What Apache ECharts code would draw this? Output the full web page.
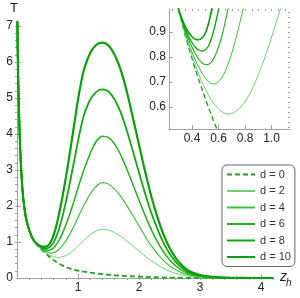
<!DOCTYPE html>
<html><head><meta charset="utf-8">
<script src="https://cdn.jsdelivr.net/npm/echarts@6/dist/echarts.min.js"></script>
<style>html,body{margin:0;padding:0;background:#fff}#c{width:300px;height:298px}</style>
</head><body><div id="c"></div>
<script>
const zValues = [0.004,0.006,0.01,0.015,0.02,0.03,0.04,0.05,0.06,0.08,0.1,0.125,0.15,0.175,0.2,0.225,0.25,0.275,
  0.3,0.325,0.35,0.375,0.4,0.425,0.45,0.475,0.5,0.525,0.55,0.575,0.6,0.625,0.65,0.675,0.7,
  0.75,0.8,0.85,0.9,0.95,1.0,1.05,1.1,
  1.2,1.3,1.4,1.5,1.6,1.7,1.8,1.9,2.0,2.1,2.2,2.3,2.4,2.5,2.6,2.7,2.8,2.9,3.0,
  3.2,3.4,3.6,3.8,4.0,4.2];
const T_d0 = [7.8,7.2,6.5,5.95,5.5,4.8,4.2,3.7,3.3,2.7,2.25,1.9,1.65,1.47,1.33,1.22,1.115,1.045,
  0.985,0.933,0.884,0.838,0.794,0.752,0.711,0.672,0.634,0.597,0.562,0.528,0.496,0.466,0.438,0.412,0.388,
  0.345,0.308,0.277,0.25,0.227,0.207,0.19,0.174,
  0.147,0.125,0.106,0.09,0.076,0.064,0.053,0.044,0.036,0.029,0.023,0.018,0.014,0.011,0.008,0.006,0.005,0.004,0.003,
  0.002,0.001,0.001,0,0,0];
const T_d2 = [7.8,7.2,6.5,5.95,5.5,4.8,4.2,3.7,3.3,2.7,2.25,1.9,1.65,1.47,1.33,1.22,1.115,1.046,
  0.987,0.937,0.89,0.847,0.806,0.768,0.733,0.70,0.672,0.647,0.625,0.606,0.592,0.581,0.574,0.572,0.574,
  0.59,0.622,0.668,0.73,0.80,0.88,0.965,1.05,
  1.2,1.31,1.35,1.33,1.26,1.16,1.03,0.89,0.75,0.61,0.48,0.37,0.27,0.19,0.13,0.085,0.055,0.035,0.022,
  0.008,0.003,0.001,0,0,0];
const T_d4 = [7.8,7.2,6.5,5.95,5.5,4.8,4.2,3.7,3.3,2.7,2.25,1.9,1.65,1.47,1.33,1.22,1.115,1.046,
  0.987,0.94,0.895,0.855,0.82,0.788,0.76,0.736,0.716,0.701,0.693,0.693,0.701,0.718,0.743,0.776,0.816,
  0.915,1.03,1.17,1.33,1.5,1.68,1.86,2.03,
  2.33,2.55,2.65,2.61,2.47,2.27,2.01,1.73,1.45,1.16,0.90,0.68,0.49,0.34,0.23,0.15,0.095,0.06,0.037,
  0.013,0.005,0.002,0,0,0];
const T_d6 = [7.8,7.2,6.5,5.95,5.5,4.8,4.2,3.7,3.3,2.7,2.25,1.9,1.65,1.47,1.33,1.22,1.115,1.047,
  0.988,0.945,0.905,0.87,0.84,0.813,0.792,0.777,0.769,0.771,0.783,0.806,0.84,0.884,0.94,1.005,1.08,
  1.26,1.47,1.7,1.95,2.22,2.5,2.77,3.02,
  3.46,3.8,3.94,3.9,3.72,3.42,3.03,2.6,2.16,1.74,1.35,1.01,0.73,0.51,0.34,0.22,0.14,0.088,0.055,
  0.02,0.007,0.002,0,0,0];
const T_d8 = [7.8,7.2,6.5,5.95,5.5,4.8,4.2,3.7,3.3,2.7,2.25,1.9,1.65,1.47,1.33,1.22,1.116,1.047,
  0.988,0.948,0.912,0.882,0.858,0.84,0.828,0.824,0.829,0.845,0.88,0.93,0.99,1.07,1.17,1.29,1.42,
  1.74,2.1,2.5,2.93,3.36,3.8,4.2,4.54,
  4.95,5.17,5.24,5.18,4.96,4.6,4.1,3.52,2.93,2.35,1.82,1.37,0.98,0.68,0.45,0.29,0.18,0.11,0.068,
  0.024,0.008,0.002,0,0,0];
const T_d10 = [7.8,7.2,6.5,5.95,5.5,4.8,4.2,3.7,3.3,2.7,2.25,1.9,1.65,1.47,1.33,1.22,1.116,1.048,
  0.989,0.952,0.922,0.898,0.881,0.871,0.869,0.876,0.895,0.935,0.995,1.08,1.19,1.33,1.49,1.67,1.87,
  2.3,2.78,3.3,3.85,4.4,4.95,5.42,5.8,
  6.25,6.48,6.54,6.46,6.2,5.78,5.18,4.45,3.7,2.96,2.28,1.7,1.22,0.84,0.56,0.36,0.22,0.135,0.083,
  0.03,0.01,0.003,0,0,0];
const seriesNames = ['d = 0','d = 2','d = 4','d = 6','d = 8','d = 10'];
const seriesValues = [T_d0, T_d2, T_d4, T_d6, T_d8, T_d10];
const mainXTicks = [1,2,3,4];
const mainYTicks = [0,1,2,3,4,5,6,7];
const insetXTicks = [0.4,0.6,0.8,1.0];
const insetYTicks = [0.6,0.7,0.8,0.9];

const styles = [
  {color:'#1f9f1f', width:1.8, type:[5,3]},
  {color:'#6fd06f', width:1},
  {color:'#3fbf3f', width:1.2},
  {color:'#20b020', width:1.5},
  {color:'#12a812', width:1.8},
  {color:'#0aa00a', width:2.2}
];
const FONT = 'Liberation Sans, Arial, sans-serif';
const AXC = '#a0a0a0';
const LBL = '#222';

function steps(a, b, s){ const r=[]; for(let v=a; v<=b+1e-9; v+=s) r.push(+v.toFixed(4)); return r; }
const mainXMinor = steps(0.2, 4.2, 0.2);
const mainYMinor = steps(0.2, 7.0, 0.2);
const insetXMinor = steps(0.25, 1.1, 0.05);
const insetYMinor = steps(0.52, 0.98, 0.02);

function pairs(ys){ return zValues.map((z,i)=>[z, ys[i]]); }

function majorAxis(grid, min, max, ticks, fmt, margin){
  return {
    type:'value', gridIndex:grid, min:min, max:max,
    axisLine:{show:true, onZero:false, lineStyle:{color:AXC, width:1}},
    axisTick:{show:true, inside:true, length:4, customValues:ticks, lineStyle:{color:AXC}},
    axisLabel:{show:true, customValues:ticks, color:LBL, fontSize:12, fontFamily:FONT, formatter:fmt, margin:margin},
    splitLine:{show:false}
  };
}
function minorAxis(grid, min, max, ticks){
  return {
    type:'value', gridIndex:grid, min:min, max:max,
    axisLine:{show:false},
    axisTick:{show:true, inside:true, length:2, customValues:ticks, lineStyle:{color:AXC}},
    axisLabel:{show:false},
    splitLine:{show:false}
  };
}

const chart = echarts.init(document.getElementById('c'), null, {renderer:'canvas'});
const series = [];
seriesValues.forEach((vals, i) => {
  series.push({type:'line', name:seriesNames[i], xAxisIndex:0, yAxisIndex:0, data:pairs(vals),
    symbol:'none', smooth:0.3, lineStyle:styles[i], itemStyle:{color:styles[i].color}, z:2+i, animation:false});
});
seriesValues.forEach((vals, i) => {
  series.push({type:'line', name:seriesNames[i], xAxisIndex:2, yAxisIndex:2, data:pairs(vals),
    symbol:'none', smooth:0.3, lineStyle:Object.assign({}, styles[i], {width:Math.max(1, styles[i].width*0.75)}),
    itemStyle:{color:styles[i].color}, z:2+i, animation:false});
});

chart.setOption({
  animation:false,
  backgroundColor:'#fff',
  grid:[
    {left:17, top:22.4, width:256.2, height:255.6, containLabel:false},
    {left:169, top:9, width:121, height:120, containLabel:false}
  ],
  xAxis:[
    majorAxis(0, 0, 4.2, mainXTicks, v=>String(v), 4),
    minorAxis(0, 0, 4.2, mainXMinor),
    majorAxis(1, 0.2268, 1.138, insetXTicks, v=>v.toFixed(1), 4),
    minorAxis(1, 0.2268, 1.138, insetXMinor)
  ],
  yAxis:[
    majorAxis(0, 0, 7.1, mainYTicks, v=>String(v), 4),
    minorAxis(0, 0, 7.1, mainYMinor),
    majorAxis(1, 0.512, 0.992, insetYTicks, v=>v.toFixed(1), 3),
    minorAxis(1, 0.512, 0.992, insetYMinor)
  ],
  legend:{
    data:seriesNames, orient:'vertical', left:222, top:165,
    itemWidth:28, itemHeight:10, itemGap:5.5, padding:[4,4,4,4],
    itemStyle:{opacity:0, color:'rgba(0,0,0,0)', borderWidth:0},
    backgroundColor:'#fff', borderColor:'#666', borderWidth:1, borderRadius:5,
    textStyle:{fontSize:11, color:'#333', fontFamily:FONT}, selectedMode:false
  },
  graphic:[
    {type:'text', left:10, top:1.5, style:{text:'T', fontSize:13, fill:LBL, fontFamily:FONT}},
    {type:'text', x:280, y:276.7, style:{text:'z', fontSize:14, fontStyle:'italic', fill:LBL, fontFamily:FONT, verticalAlign:'middle'}},
    {type:'text', x:286, y:283.2, style:{text:'h', fontSize:10, fontStyle:'italic', fill:LBL, fontFamily:FONT, verticalAlign:'middle'}}
  ],
  series:series
});
</script>
</body></html>
